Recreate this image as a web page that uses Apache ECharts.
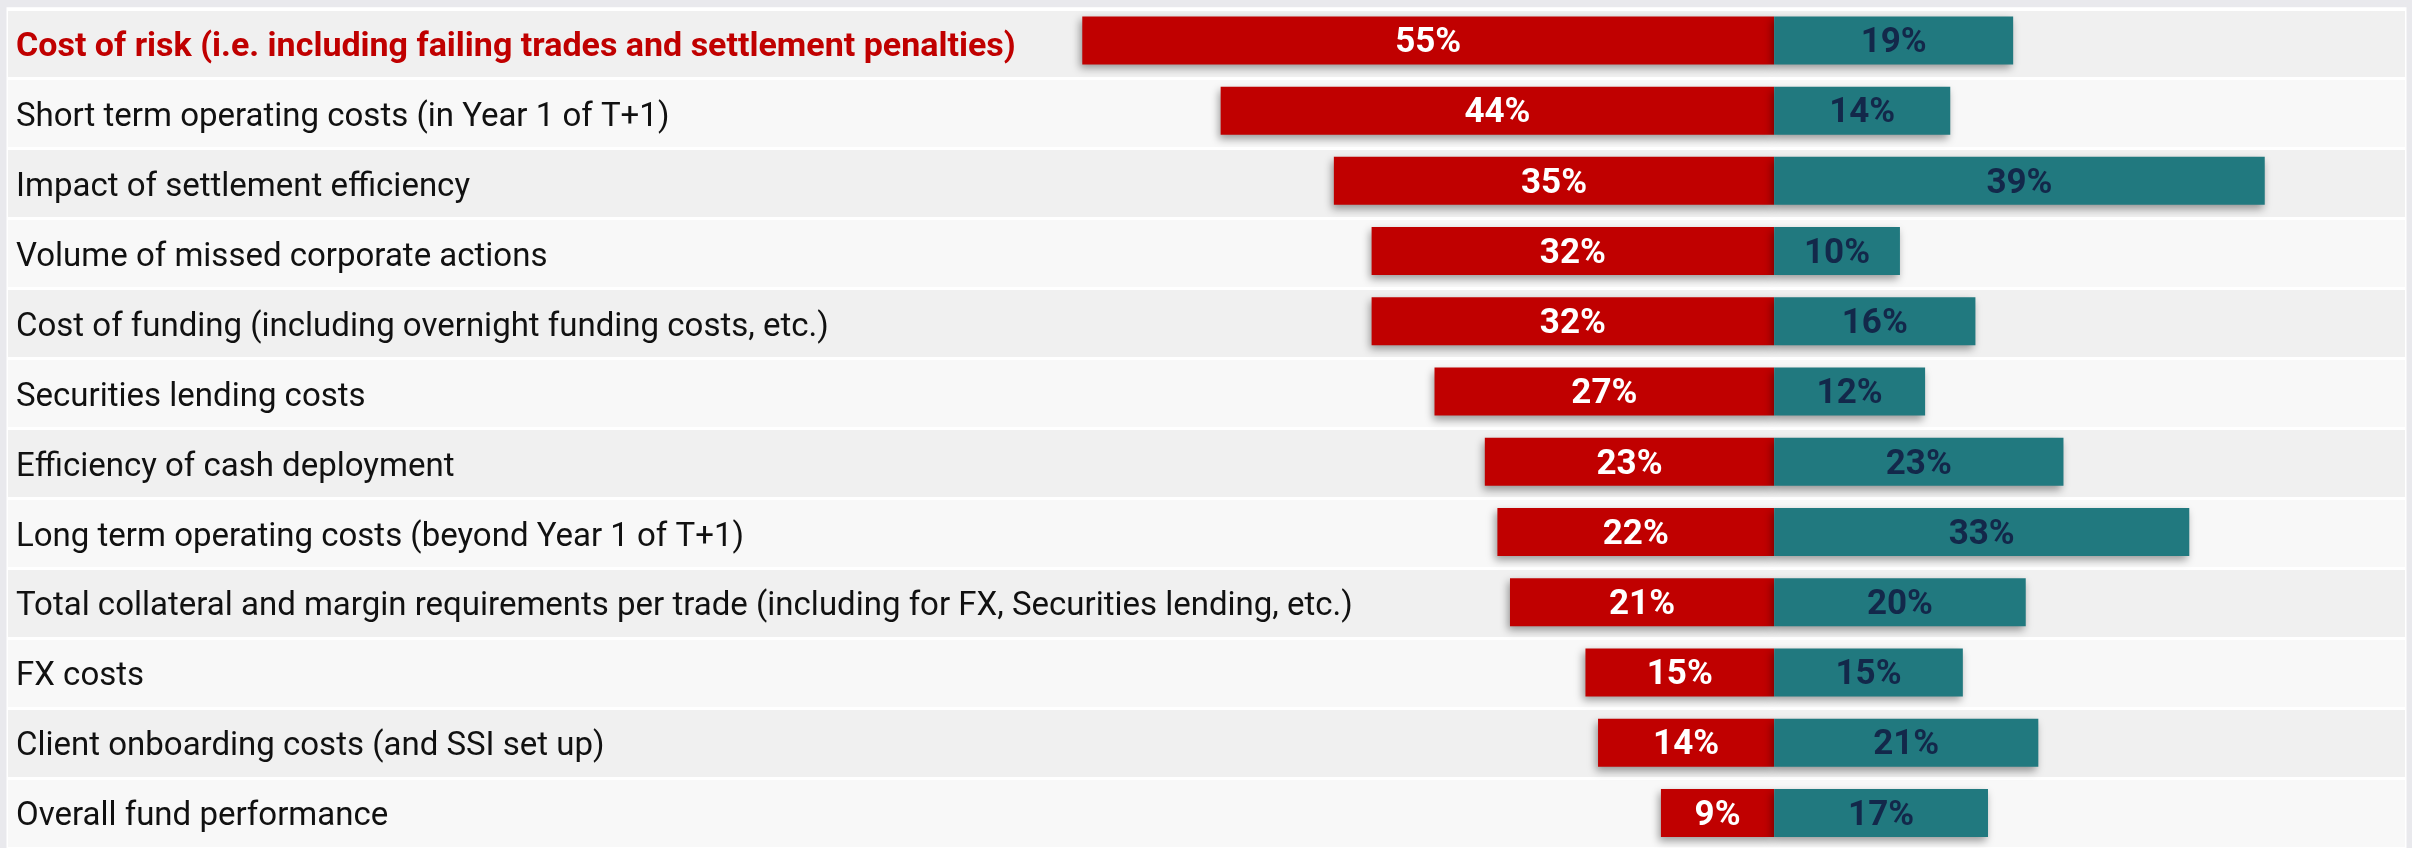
<!DOCTYPE html>
<html>
<head>
<meta charset="utf-8">
<script src="https://cdn.jsdelivr.net/npm/echarts@6/dist/echarts.min.js"></script>
<style>
  html, body { margin: 0; padding: 0; background: #e9e9ed; }
  #chart { width: 2412px; height: 848px; }
</style>
</head>
<body>
<div id="chart"></div>
<script>
// Cost drivers: share of respondents expecting an increase (red, left) vs a decrease (teal, right)
const categories = [
  'Cost of risk (i.e. including failing trades and settlement penalties)',
  'Short term operating costs (in Year 1 of T+1)',
  'Impact of settlement efficiency',
  'Volume of missed corporate actions',
  'Cost of funding (including overnight funding costs, etc.)',
  'Securities lending costs',
  'Efficiency of cash deployment',
  'Long term operating costs (beyond Year 1 of T+1)',
  'Total collateral and margin requirements per trade (including for FX, Securities lending, etc.)',
  'FX costs',
  'Client onboarding costs (and SSI set up)',
  'Overall fund performance'
];
const increaseValues = [55, 44, 35, 32, 32, 27, 23, 22, 21, 15, 14, 9];
const decreaseValues = [19, 14, 39, 10, 16, 12, 23, 33, 20, 15, 21, 17];

const RED = '#c00000';
const TEAL = '#21797f';
const NAVY = '#13284a';
const FONT = 'Roboto';

const rowTop = 8.8;
const rowHeight = 70.4;
const gridHeight = rowHeight * categories.length;

const chart = echarts.init(document.getElementById('chart'), null, { renderer: 'canvas' });

const barShadow = {
  shadowBlur: 8,
  shadowOffsetX: -2,
  shadowOffsetY: 4,
  shadowColor: 'rgba(0,0,0,0.38)'
};

function valueLabel(color) {
  return {
    show: true,
    position: 'inside',
    offset: [0, 3],
    formatter: p => Math.abs(p.value) + '%',
    color: color,
    fontFamily: FONT,
    fontWeight: 'bold',
    fontSize: 35
  };
}

chart.setOption({
  backgroundColor: '#e9e9ed',
  animation: false,
  grid: [
    // row bands with category labels
    { left: 8, right: 7, top: rowTop, height: gridHeight, show: true,
      backgroundColor: '#f4f4f4', borderColor: '#ffffff', borderWidth: 3 },
    // diverging bars
    { left: 8, width: 2397, top: rowTop - 3.5, height: gridHeight }
  ],
  xAxis: [
    { gridIndex: 0, type: 'value', min: 0, max: 1, show: false },
    { gridIndex: 1, type: 'value', min: -140.4, max: 50.15, show: false }
  ],
  yAxis: [
    {
      gridIndex: 0,
      type: 'category',
      inverse: true,
      data: categories,
      axisLine: { show: false },
      axisTick: { show: false },
      splitLine: { show: true, lineStyle: { color: '#ffffff', width: 3 } },
      splitArea: { show: true, areaStyle: { color: ['#f0f0f0', '#f8f8f8'] } },
      axisLabel: {
        inside: true,
        margin: 8,
        color: '#111111',
        fontFamily: FONT,
        fontSize: 33,
        padding: [8, 0, 0, 0],
        formatter: (v, i) => i === 0 ? '{hl|' + v + '}' : v,
        rich: {
          hl: { color: RED, fontWeight: 'bold', fontFamily: FONT, fontSize: 34 }
        }
      },
      z: 1
    },
    {
      gridIndex: 1,
      type: 'category',
      inverse: true,
      data: categories,
      show: false
    }
  ],
  series: [
    {
      name: 'Increase',
      type: 'bar',
      xAxisIndex: 1,
      yAxisIndex: 1,
      barWidth: 48,
      barGap: '-100%',
      data: increaseValues.map(v => -v),
      itemStyle: Object.assign({ color: RED }, barShadow),
      label: valueLabel('#ffffff'),
      z: 3
    },
    {
      name: 'Decrease',
      type: 'bar',
      xAxisIndex: 1,
      yAxisIndex: 1,
      barWidth: 48,
      barGap: '-100%',
      data: decreaseValues,
      itemStyle: Object.assign({ color: TEAL }, barShadow),
      label: valueLabel(NAVY),
      z: 3
    }
  ]
});
</script>
</body>
</html>
